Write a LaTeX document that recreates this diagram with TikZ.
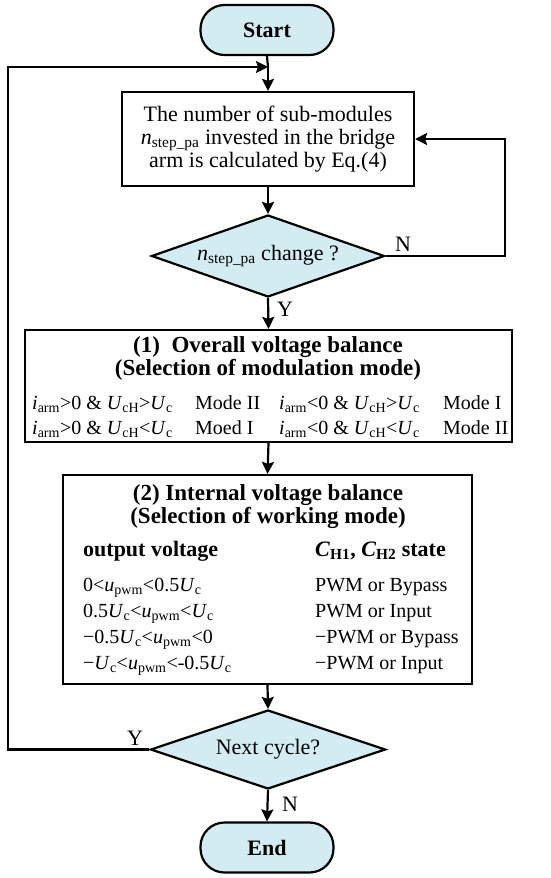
\documentclass[tikz,border=0pt]{standalone}
\usepackage{fontspec}
\setmainfont{Liberation Serif}
\usetikzlibrary{shapes.geometric,arrows.meta}
\definecolor{flowfill}{HTML}{D3ECF2}
\newcommand{\sbs}[1]{\textsubscript{#1}}
\newcommand{\ivar}[1]{\textit{#1}}
\begin{document}
\begin{tikzpicture}[x=1pt,y=-1pt,
  every node/.style={font=\fontsize{22}{23}\selectfont, inner sep=0pt},
  term/.style={draw, line width=2.2pt, fill=flowfill, rounded corners=24pt, minimum width=133pt, minimum height=50pt},
  procbox/.style={draw, line width=2.2pt, fill=white, align=center},
  decide/.style={draw, line width=2.2pt, fill=flowfill, diamond, aspect=2.9},
  rowtxt/.style={font=\fontsize{20}{21}\selectfont, anchor=base west},
  lbl/.style={font=\fontsize{22}{23}\selectfont},
  flow/.style={line width=2.2pt, -{Stealth[length=12pt,width=12pt,inset=2pt]}},
  plain/.style={line width=2.2pt}
]
\useasboundingbox (0,0) rectangle (550,878);

% nodes
\node[term] (start) at (267,30) {\textbf{Start}};
\node[procbox, minimum width=292pt, minimum height=94pt] (calc) at (268,139)
  {The number of sub-modules\\ \ivar{n}\sbs{step\_pa} invested in the bridge\\ arm is calculated by Eq.(4)};
\node[decide, minimum width=233pt, minimum height=82pt] (chg) at (268,256)
  {\ivar{n}\sbs{step\_pa} change ?};
\node[procbox, minimum width=487pt, minimum height=112pt] (ovb) at (268.5,386) {};
\node[procbox, minimum width=409pt, minimum height=209pt] (ivb) at (267.5,579.5) {};
\node[decide, minimum width=235pt, minimum height=79pt] (nxt) at (268,749.5) {Next cycle?};
\node[term] (endn) at (267,847.5) {\textbf{End}};

% box 2 text
\node[font=\bfseries\fontsize{23}{23}\selectfont, align=center] (ovbt) at (268,358)
  {(1)\enspace Overall voltage balance\\(Selection of modulation mode)};
\node[rowtxt] (r1a) at (32,409) {\ivar{i}\sbs{arm}>0 \& \ivar{U}\sbs{cH}>\ivar{U}\sbs{c}};
\node[rowtxt] (r1b) at (195,409) {Mode II};
\node[rowtxt] (r1c) at (279,409) {\ivar{i}\sbs{arm}<0 \& \ivar{U}\sbs{cH}>\ivar{U}\sbs{c}};
\node[rowtxt] (r1d) at (443,409) {Mode I};
\node[rowtxt] (r2a) at (32,434) {\ivar{i}\sbs{arm}>0 \& \ivar{U}\sbs{cH}<\ivar{U}\sbs{c}};
\node[rowtxt] (r2b) at (195,434) {Moed I};
\node[rowtxt] (r2c) at (279,434) {\ivar{i}\sbs{arm}<0 \& \ivar{U}\sbs{cH}<\ivar{U}\sbs{c}};
\node[rowtxt] (r2d) at (443,434) {Mode II};

% box 3 text
\node[font=\bfseries\fontsize{23}{23}\selectfont, align=center] (ivbt) at (268,507)
  {(2) Internal voltage balance\\(Selection of working mode)};
\node[rowtxt, font=\bfseries\fontsize{22}{23}\selectfont] (h1) at (83,556) {output voltage};
\node[rowtxt, font=\bfseries\fontsize{22}{23}\selectfont] (h2) at (315,556) {\ivar{C}\sbs{H1}, \ivar{C}\sbs{H2} state};
\node[rowtxt] (a1) at (83,591) {0<\ivar{u}\sbs{pwm}<0.5\ivar{U}\sbs{c}};
\node[rowtxt] (b1) at (315,591) {PWM or Bypass};
\node[rowtxt] (a2) at (83,617) {0.5\ivar{U}\sbs{c}<\ivar{u}\sbs{pwm}<\ivar{U}\sbs{c}};
\node[rowtxt] (b2) at (315,617) {PWM or Input};
\node[rowtxt] (a3) at (83,643) {−0.5\ivar{U}\sbs{c}<\ivar{u}\sbs{pwm}<0};
\node[rowtxt] (b3) at (315,643) {−PWM or Bypass};
\node[rowtxt] (a4) at (83,669) {−\ivar{U}\sbs{c}<\ivar{u}\sbs{pwm}<-0.5\ivar{U}\sbs{c}};
\node[rowtxt] (b4) at (315,669) {−PWM or Input};

% labels
\node[lbl] (lN1) at (403,244) {N};
\node[lbl] (lY1) at (285,309) {Y};
\node[lbl] (lY2) at (135,738) {Y};
\node[lbl] (lN2) at (290,804) {N};

% connectors
\coordinate (jn) at (268,67);
\coordinate (lcTop) at (8,67);
\coordinate (lcBot) at (8,749.5);
\coordinate (rcTop) at (505,139);
\coordinate (rcBot) at (505,256);

\draw[plain] (start.south) -- (jn);
\draw[flow] (jn) -- (calc.north);
\draw[flow] (calc.south) -- (chg.north);
\draw[flow] (chg.south) -- (ovb.north);
\draw[flow] (ovb.south) -- (ivb.north);
\draw[flow] (ivb.south) -- (nxt.north);
\draw[flow] (nxt.south) -- (endn.north);
\draw[flow] (chg.east) -- (rcBot) -- (rcTop) -- (calc.east);
\draw[flow] (nxt.west) -- (lcBot) -- (lcTop) -- (jn);
\end{tikzpicture}
\end{document}
